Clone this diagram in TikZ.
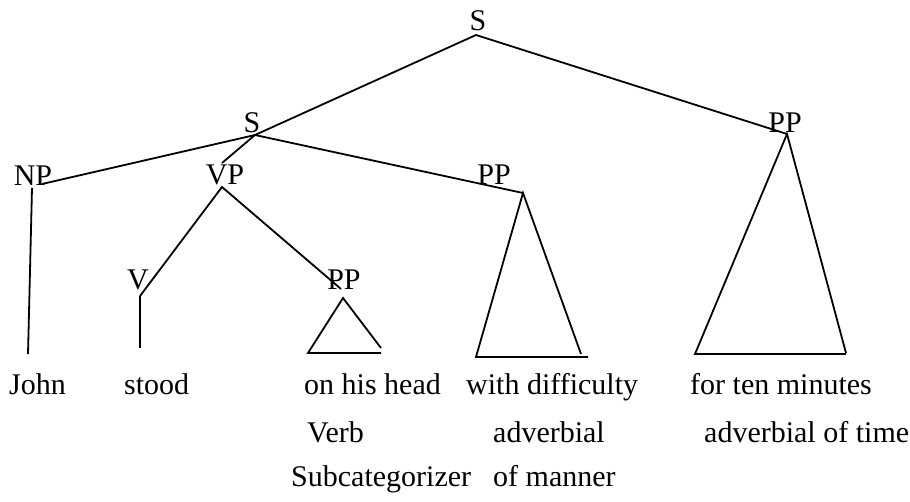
\documentclass[tikz,border=0pt]{standalone}
\usepackage{fontspec}
\setmainfont{Liberation Serif}
\begin{document}
\begin{tikzpicture}[x=1pt,y=-1pt,
  lbl/.style={inner sep=0pt, anchor=base, font=\fontsize{30}{36}\selectfont},
  word/.style={inner sep=0pt, anchor=base west, font=\fontsize{30}{36}\selectfont},
  edge/.style={line width=1.8pt, line join=miter}]
\useasboundingbox (0,0) rectangle (910,502);
% category labels
\node[lbl] (S) at (478,31) {S};
\node[lbl] (S2) at (252,133) {S};
\node[lbl] (PPr) at (785,133) {PP};
\node[lbl] (NP) at (33,186) {NP};
\node[lbl] (VP) at (225,185) {VP};
\node[lbl] (PPm) at (494,185) {PP};
\node[lbl] (V) at (138,290) {V};
\node[lbl] (PPs) at (344,290) {PP};
% words
\node[word] (john) at (9,395) {John};
\node[word] (stood) at (124,395) {stood};
\node[word] (head) at (304,395) {on his head};
\node[word] (diff) at (466,395) {with difficulty};
\node[word] (mins) at (690,395) {for ten minutes};
\node[word] (verb) at (307,442) {Verb};
\node[word] (adv) at (493,442) {adverbial};
\node[word] (advt) at (704,442) {adverbial of time};
\node[word] (subc) at (291,486) {Subcategorizer};
\node[word] (manner) at (493,486) {of manner};
% junction points
\coordinate (sj) at (476,35);
\coordinate (s2j) at (255,135);
\coordinate (ppr) at (787,134);
\coordinate (npr) at (42,184);
\coordinate (npb) at (32,188);
\coordinate (vpt) at (222,163);
\coordinate (vpb) at (222,187);
\coordinate (ppm) at (523,193);
\coordinate (vj) at (140,296);
\coordinate (vend) at (140,348);
\coordinate (npend) at (28,354);
\coordinate (pps) at (341,289);
\coordinate (ppsa) at (343,298);
% edges
\draw[edge] (s2j) -- (sj) -- (ppr);
\draw[edge] (npr) -- (s2j) -- (ppm);
\draw[edge] (s2j) -- (vpt);
\draw[edge] (npb) -- (npend);
\draw[edge] (vj) -- (vpb) -- (pps);
\draw[edge] (vj) -- (vend);
% triangles
\draw[edge] (381,348) -- (ppsa) -- (308,353) -- (381,353);
\draw[edge] (581,354) -- (ppm) -- (476,357) -- (588,357);
\draw[edge] (846,353) -- (ppr) -- (695,354) -- (846,354);
\end{tikzpicture}
\end{document}
